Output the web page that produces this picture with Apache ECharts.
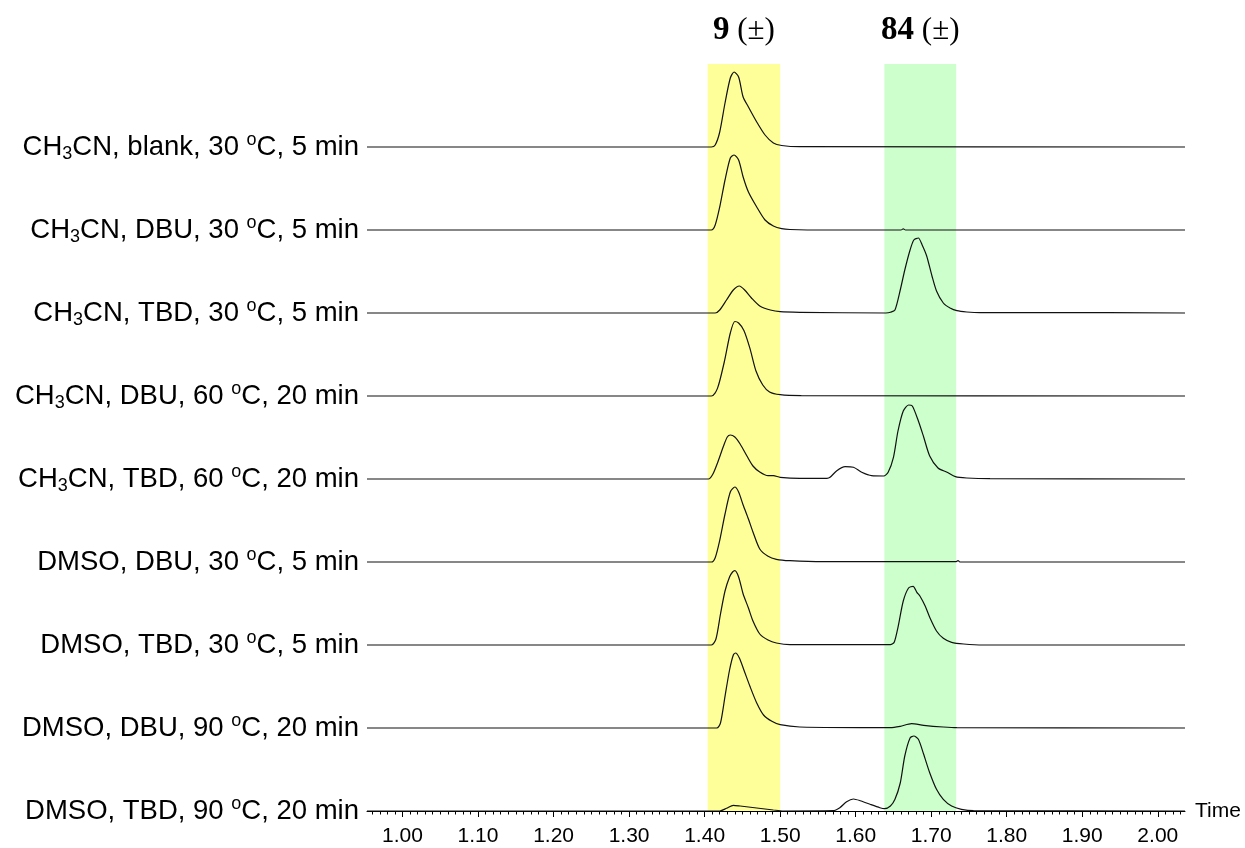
<!DOCTYPE html>
<html>
<head>
<meta charset="utf-8">
<script src="https://cdn.jsdelivr.net/npm/echarts@6/dist/echarts.min.js"></script>
<style>
    html, body {margin: 0; padding: 0; background: #fff;}
    #chart {width: 1245px; height: 848px;}
</style>
</head>
<body>
<div id="chart"></div>
<script>
// row labels, top to bottom
const conditions = [
    "CH{sub|3}CN, blank, 30 {sup|o}C, 5 min",
    "CH{sub|3}CN, DBU, 30 {sup|o}C, 5 min",
    "CH{sub|3}CN, TBD, 30 {sup|o}C, 5 min",
    "CH{sub|3}CN, DBU, 60 {sup|o}C, 20 min",
    "CH{sub|3}CN, TBD, 60 {sup|o}C, 20 min",
    "DMSO, DBU, 30 {sup|o}C, 5 min",
    "DMSO, TBD, 30 {sup|o}C, 5 min",
    "DMSO, DBU, 90 {sup|o}C, 20 min",
    "DMSO, TBD, 90 {sup|o}C, 20 min"
];

const majorTicks = [1.00, 1.10, 1.20, 1.30, 1.40, 1.50, 1.60, 1.70, 1.80, 1.90, 2.00];
const timeRange = [0.953, 2.036];
const bandPeak9 = [1.404, 1.500];
const bandPeak84 = [1.638, 1.733];
const bandNames = ["9", "84"];
const rowGap = 83;

// [time, intensity] per trace
const trace1 = [[0.953, 0], [1.409, 0], [1.414, 2], [1.420, 15], [1.427, 44], [1.434, 69], [1.439, 75], [1.445, 70], [1.451, 50], [1.458, 40], [1.469, 25], [1.480, 12], [1.491, 4], [1.502, 1.5], [1.526, 0.3], [2.036, 0]];
const trace2 = [[0.953, 0], [1.409, 0], [1.414, 5], [1.420, 23], [1.427, 50], [1.434, 72], [1.439, 75], [1.445, 70], [1.451, 53], [1.458, 38], [1.469, 23], [1.480, 10], [1.491, 4], [1.502, 1.3], [1.513, 0.5], [1.560, 0], [1.660, 0], [1.663, 1.2], [1.666, 0], [2.036, 0]];
const trace3 = [[0.953, 0], [1.414, 0], [1.420, 3], [1.429, 13], [1.438, 23], [1.446, 27], [1.453, 23], [1.462, 15], [1.473, 7], [1.487, 3], [1.500, 1.3], [1.526, 0.7], [1.640, 0], [1.646, 0.7], [1.652, 3], [1.659, 23], [1.665, 43], [1.672, 63], [1.677, 73], [1.683, 75], [1.688, 68], [1.694, 57], [1.701, 37], [1.707, 22], [1.716, 10], [1.725, 5], [1.734, 2.3], [1.747, 1], [1.765, 0.3], [1.850, 0.5], [2.036, 0]];
const trace4 = [[0.953, 0], [1.409, 0], [1.417, 7.6], [1.426, 34], [1.434, 63], [1.440, 74.5], [1.445, 73], [1.452, 65.6], [1.460, 47.7], [1.468, 25], [1.477, 11], [1.486, 4], [1.500, 1.3], [1.528, 0.4], [2.036, 0]];
const trace5 = [[0.953, 0], [1.405, 0], [1.411, 5], [1.418, 18], [1.425, 33], [1.430, 42], [1.434, 44], [1.440, 42], [1.447, 35], [1.456, 23], [1.464, 13], [1.473, 7], [1.484, 3.3], [1.491, 3.3], [1.500, 1.7], [1.526, 0.7], [1.562, 0.7], [1.566, 1.7], [1.575, 8.3], [1.586, 12.3], [1.597, 11.7], [1.608, 6.7], [1.621, 3.3], [1.637, 3], [1.643, 6.7], [1.650, 21.7], [1.656, 48], [1.663, 68], [1.670, 74], [1.675, 73], [1.683, 58], [1.690, 42], [1.698, 23], [1.709, 11], [1.721, 6.7], [1.732, 2.3], [1.747, 1], [1.778, 0.3], [2.036, 0]];
const trace6 = [[0.953, 0], [1.409, 0], [1.414, 4.3], [1.420, 21.7], [1.427, 48], [1.434, 70], [1.440, 75], [1.445, 70], [1.451, 57], [1.458, 43], [1.464, 30], [1.473, 13], [1.484, 5.7], [1.495, 2.7], [1.513, 1.3], [1.557, 0.3], [1.733, 0.3], [1.7355, 1.5], [1.738, 0], [2.036, 0]];
const trace7 = [[0.953, 0], [1.409, 0], [1.415, 6], [1.421, 31], [1.427, 54], [1.433, 68], [1.437, 73], [1.440, 74.3], [1.445, 68], [1.451, 51], [1.458, 37], [1.464, 24], [1.473, 11], [1.484, 5], [1.495, 2], [1.513, 0.3], [1.646, 0.3], [1.651, 2.7], [1.656, 17.7], [1.663, 44], [1.670, 57], [1.676, 58.7], [1.681, 52.7], [1.685, 49], [1.692, 39], [1.698, 27.7], [1.707, 14], [1.716, 6.7], [1.727, 2.7], [1.743, 1], [1.769, 0], [2.036, 0]];
const trace8 = [[0.953, 0], [1.416, 0], [1.421, 5], [1.427, 31.7], [1.433, 58], [1.438, 73], [1.441, 75], [1.446, 70], [1.452, 58], [1.460, 41.7], [1.469, 25], [1.478, 13], [1.489, 6.7], [1.500, 3.3], [1.526, 1], [1.646, 0.3], [1.659, 1.7], [1.674, 4.3], [1.690, 2.7], [1.716, 1], [1.734, 0.3], [2.036, 0]];
const trace9 = [[0.953, 0], [1.420, 0], [1.429, 2.7], [1.438, 5.7], [1.447, 5], [1.469, 3], [1.491, 1], [1.504, 0], [1.570, 0.3], [1.579, 3.3], [1.588, 9.3], [1.597, 12], [1.606, 10.3], [1.619, 6.7], [1.632, 3.3], [1.638, 2.3], [1.646, 5], [1.652, 11.7], [1.659, 28], [1.665, 55], [1.672, 73], [1.677, 75], [1.683, 71.7], [1.690, 56.7], [1.698, 38.3], [1.707, 21.7], [1.716, 11.7], [1.727, 5], [1.740, 1.7], [1.756, 0.3], [2.036, 0]];

const traces = [trace1, trace2, trace3, trace4, trace5, trace6, trace7, trace8, trace9];
const rows = traces.length;
const minorTicks = Array.from({length: 108}, (_, i) => +(0.96 + i * 0.01).toFixed(2))
    .filter(v => !majorTicks.some(m => Math.abs(m - v) < 1e-6));

const chart = echarts.init(document.getElementById("chart"));

const sans = "'Liberation Sans', Arial, sans-serif";
const serif = "'Liberation Serif', 'Times New Roman', serif";

const traceSeries = traces.map((points, i) => ({
    type: "line",
    z: 3,
    silent: true,
    showSymbol: false,
    smooth: 0.25,
    lineStyle: {color: "#111", width: 1.2},
    data: points.map(([t, h]) => [t, h + (rows - 1 - i) * rowGap])
}));

const bandSeries = {
    type: "line",
    z: 1,
    silent: true,
    data: [],
    markArea: {
        silent: true,
        label: {
            show: true,
            position: "top",
            distance: 17,
            formatter: p => `{b|${p.name}}{n| (±)}`,
            rich: {
                b: {fontFamily: serif, fontWeight: "bold", fontSize: 33, color: "#000"},
                n: {fontFamily: serif, fontSize: 31, color: "#000"}
            }
        },
        data: [
            [{name: bandNames[0], xAxis: bandPeak9[0], yAxis: rows * rowGap, itemStyle: {color: "#ffff99"}},
             {xAxis: bandPeak9[1], yAxis: 0}],
            [{name: bandNames[1], xAxis: bandPeak84[0], yAxis: rows * rowGap, itemStyle: {color: "#ccffcc"}},
             {xAxis: bandPeak84[1], yAxis: 0}]
        ]
    }
};

chart.setOption({
    animation: false,
    backgroundColor: "#fff",
    grid: {left: 367, right: 60, top: 811 - rows * rowGap, bottom: 37, outerBoundsMode: "none"},
    xAxis: [{
        type: "value",
        min: timeRange[0],
        max: timeRange[1],
        name: "Time",
        nameLocation: "end",
        nameGap: 10,
        nameTextStyle: {fontFamily: sans, fontSize: 21, color: "#000"},
        splitLine: {show: false},
        axisLine: {lineStyle: {color: "#000", width: 1}},
        axisTick: {customValues: majorTicks, length: 6, lineStyle: {color: "#000"}},
        axisLabel: {
            customValues: majorTicks,
            margin: 15,
            fontFamily: sans,
            fontSize: 21,
            color: "#000",
            formatter: v => v.toFixed(2)
        }
    }, {
        type: "value",
        min: timeRange[0],
        max: timeRange[1],
        position: "bottom",
        splitLine: {show: false},
        axisLine: {show: false},
        axisTick: {customValues: minorTicks, length: 3.5, lineStyle: {color: "#000"}},
        axisLabel: {show: false}
    }],
    yAxis: {
        type: "value",
        min: 0,
        max: rows * rowGap,
        interval: rowGap,
        splitLine: {show: false},
        axisLine: {show: false},
        axisTick: {show: false},
        axisLabel: {
            margin: 8,
            color: "#000",
            fontFamily: sans,
            fontSize: 27.5,
            lineHeight: 32,
            formatter: v => conditions[rows - 1 - Math.round(v / rowGap)] || "",
            rich: {
                sub: {fontFamily: sans, fontSize: 18, lineHeight: 20, verticalAlign: "bottom", color: "#000"},
                sup: {fontFamily: sans, fontSize: 18, lineHeight: 12, verticalAlign: "top", color: "#000"}
            }
        }
    },
    series: [bandSeries, ...traceSeries]
});
</script>
</body>
</html>
